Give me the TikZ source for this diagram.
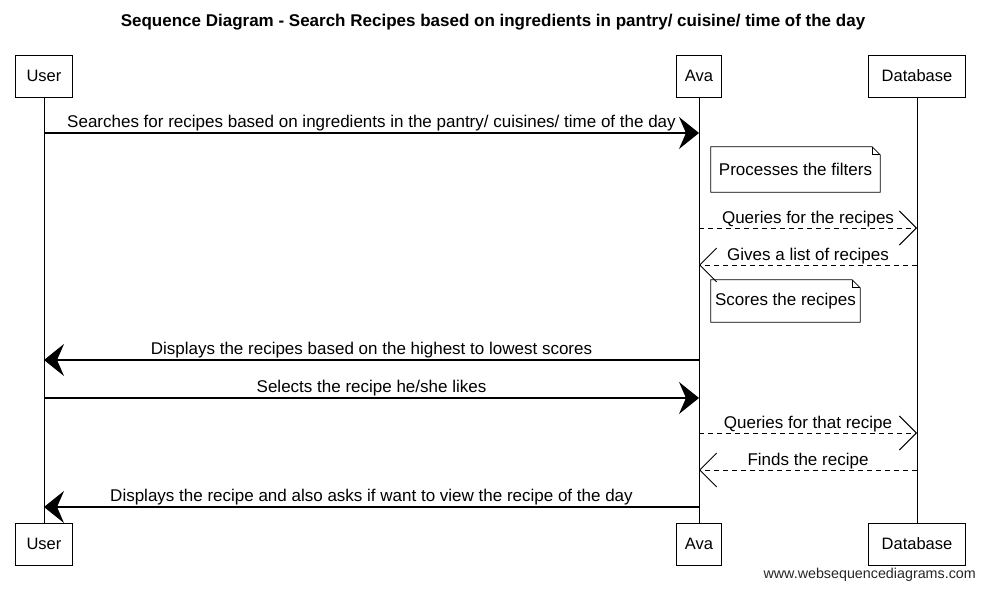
\documentclass[tikz,border=0pt]{standalone}
\usepackage{fontspec}
\setmainfont{Liberation Sans}
\usetikzlibrary{arrows.meta,calc}
\begin{document}
\begin{tikzpicture}[x=1pt,y=-1pt,
  part/.style={draw, line width=0.8pt, minimum height=42pt, inner sep=0pt, font=\fontsize{16.5}{18}\selectfont},
  life/.style={line width=0.7pt},
  msg/.style={line width=1.1pt, -{Stealth[length=20pt,width=32pt,inset=7pt]}},
  reply/.style={line width=0.8pt, dash pattern=on 5pt off 4pt, -{Straight Barb[length=17pt,width=34pt,line width=0.9pt]}},
  lbl/.style={font=\fontsize{17}{18}\selectfont, inner sep=1pt, above},
  notetext/.style={font=\fontsize{17}{18}\selectfont, inner sep=0pt},
  noteline/.style={line width=0.8pt}
]
\useasboundingbox (0,0) rectangle (984,589);
\fill[white] (0,0) rectangle (984,589);

% title
\node[font=\fontsize{17}{19}\selectfont\bfseries] (title) at (493,22)
  {Sequence Diagram - Search Recipes based on ingredients in pantry/ cuisine/ time of the day};

% participants
\node[part, minimum width=57pt] (userT) at (44,76) {User};
\node[part, minimum width=45pt] (avaT) at (699,76) {Ava};
\node[part, minimum width=97pt] (dbT) at (917,76) {Database};
\node[part, minimum width=57pt] (userB) at (44,544) {User};
\node[part, minimum width=45pt] (avaB) at (699,544) {Ava};
\node[part, minimum width=97pt] (dbB) at (917,544) {Database};

% lifelines
\draw[life] (userT) -- (userB);
\draw[life] (avaT) -- (avaB);
\draw[life] (dbT) -- (dbB);

% message end points on lifelines
\coordinate (u1) at (44,133);  \coordinate (a1) at (699,133);
\coordinate (a2) at (699,228); \coordinate (d2) at (917,228);
\coordinate (d3) at (917,265); \coordinate (a3) at (699,265);
\coordinate (a4) at (699,360); \coordinate (u4) at (44,360);
\coordinate (u5) at (44,398);  \coordinate (a5) at (699,398);
\coordinate (a6) at (699,433); \coordinate (d6) at (917,433);
\coordinate (d7) at (917,470); \coordinate (a7) at (699,470);
\coordinate (a8) at (699,507); \coordinate (u8) at (44,507);

\draw[msg] (u1) -- node[lbl] {Searches for recipes based on ingredients in the pantry/ cuisines/ time of the day} (a1);

% note 1
\node[notetext, minimum width=169pt, minimum height=45pt] (n1) at (795.5,169.5) {Processes the filters};
\draw[noteline] (n1.north west) -- ($(n1.north east)+(-8,0)$) -- ($(n1.north east)+(0,8)$) -- (n1.south east) -- (n1.south west) -- cycle;
\draw[noteline] ($(n1.north east)+(-8,0)$) -- ($(n1.north east)+(-8,8)$) -- ($(n1.north east)+(0,8)$);

\draw[reply] (a2) -- node[lbl] {Queries for the recipes} (d2);
\draw[reply] (d3) -- node[lbl] {Gives a list of recipes} (a3);

% note 2
\node[notetext, minimum width=149pt, minimum height=42pt] (n2) at (785.5,301) {Scores the recipes};
\draw[noteline] (n2.north west) -- ($(n2.north east)+(-8,0)$) -- ($(n2.north east)+(0,8)$) -- (n2.south east) -- (n2.south west) -- cycle;
\draw[noteline] ($(n2.north east)+(-8,0)$) -- ($(n2.north east)+(-8,8)$) -- ($(n2.north east)+(0,8)$);

\draw[msg] (a4) -- node[lbl] {Displays the recipes based on the highest to lowest scores} (u4);
\draw[msg] (u5) -- node[lbl] {Selects the recipe he/she likes} (a5);
\draw[reply] (a6) -- node[lbl] {Queries for that recipe} (d6);
\draw[reply] (d7) -- node[lbl] {Finds the recipe} (a7);
\draw[msg] (a8) -- node[lbl] {Displays the recipe and also asks if want to view the recipe of the day} (u8);

% watermark
\node[anchor=east, font=\fontsize{14.3}{16}\selectfont, text=black!85, inner sep=0pt] (wm) at (976,575) {www.websequencediagrams.com};
\end{tikzpicture}
\end{document}
